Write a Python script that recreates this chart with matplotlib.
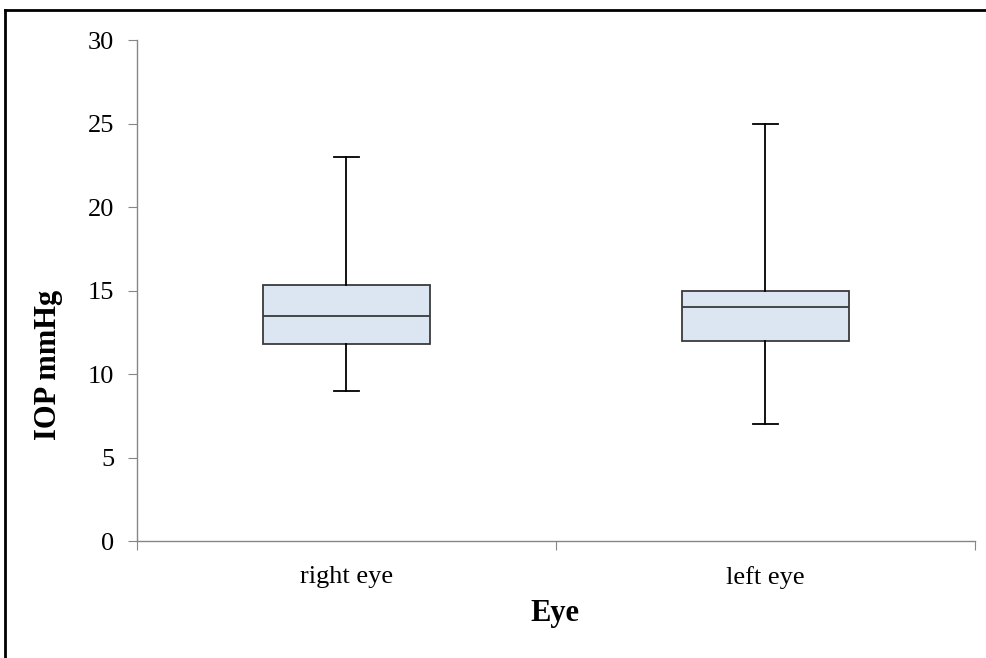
import matplotlib.pyplot as plt
from matplotlib.lines import Line2D

eyes = ['right eye', 'left eye']
whisker_low = [9, 7]
q1 = [11.8, 12.0]
median = [13.5, 14.0]
q3 = [15.3, 15.0]
whisker_high = [23, 25]

plt.rcParams['font.family'] = ['Liberation Serif', 'DejaVu Serif']

fig = plt.figure(figsize=(9.87, 6.58), dpi=100)
ax = fig.add_axes([0.1388, 0.1778, 0.8490, 0.7614])

stats = []
for i, name in enumerate(eyes):
    stats.append({'label': name, 'whislo': whisker_low[i], 'q1': q1[i],
                  'med': median[i], 'q3': q3[i], 'whishi': whisker_high[i],
                  'fliers': []})

box_color = '#3a3a3a'
ax.bxp(stats, positions=[1, 2], widths=0.4, patch_artist=True,
       showfliers=False, capwidths=0.06,
       boxprops=dict(facecolor='#dce6f2', edgecolor=box_color, linewidth=1.3),
       medianprops=dict(color=box_color, linewidth=1.3),
       whiskerprops=dict(color='black', linewidth=1.3),
       capprops=dict(color='black', linewidth=1.3))

ax.set_xlim(0.5, 2.5)
ax.set_ylim(0, 30)
ax.set_yticks(range(0, 31, 5))
ax.set_xticks([0.5, 1.5, 2.5])
ax.set_xticklabels([])
ax.set_xticks([1, 2], minor=True)
ax.set_xticklabels(eyes, minor=True)
ax.tick_params(axis='x', which='minor', length=0, pad=18, labelsize=19)
ax.tick_params(axis='x', which='major', length=6.5, color='#868686', direction='out')
ax.tick_params(axis='y', length=6.5, color='#868686', direction='out', pad=10, labelsize=19)

for side in ['top', 'right']:
    ax.spines[side].set_visible(False)
for side in ['left', 'bottom']:
    ax.spines[side].set_color('#868686')
    ax.spines[side].set_linewidth(1.0)

ax.set_xlabel('Eye', fontsize=22, fontweight='bold', va='center')
ax.xaxis.set_label_coords(0.499, -0.144)
ax.set_ylabel('IOP mmHg', fontsize=22, fontweight='bold', va='center')
ax.yaxis.set_label_coords(-0.106, 0.351)

# frame around the chart (top and left edges)
fig.add_artist(Line2D([0.005, 0.005], [0.0, 0.985], transform=fig.transFigure,
                      color='black', linewidth=2))
fig.add_artist(Line2D([0.005, 1.0], [0.985, 0.985], transform=fig.transFigure,
                      color='black', linewidth=2))

fig.savefig('out.png', dpi=100)
